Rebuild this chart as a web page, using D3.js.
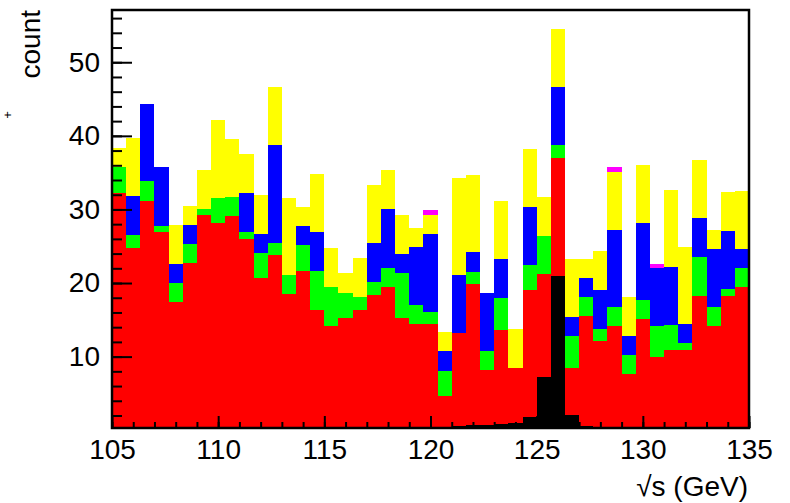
<!DOCTYPE html>
<html>
<head>
<meta charset="utf-8">
<script src="https://cdn.jsdelivr.net/npm/d3@7"></script>
<style>
    body { margin: 0; background: #fff; }
    text { font-family: "Liberation Sans", Arial, sans-serif; }
</style>
</head>
<body>
<script>
// 45 bins of 2/3 GeV between 105 and 135
var binWidth = 2 / 3;
var binLow = d3.range(45).map(function(i) { return 105 + i * binWidth; });

var black = [0.2,0.2,0.2,0.2,0.2,0.2,0.2,0.2,0.2,0.2,0.2,0.2,0.2,0.2,0.2,0.2,0.2,0.2,0.2,0.2,
    0.3,0.3,0.4,0.5,0.6,0.65,0.7,0.85,1.0,1.85,7.25,20.9,2.1,0.6,0.5,0.5,0.4,0.4,0.3,0.3,0.3,0.3,0.3,0.3,0.3];
var red = [32.1,24.6,31.0,26.7,17.2,22.5,29.0,28.0,28.9,25.8,20.5,23.6,18.3,21.5,16.2,14.0,15.1,16.2,18.2,19.3,
    15.0,14.1,14.0,4.2,12.6,19.2,7.5,12.8,7.5,17.2,14.0,16.1,6.4,14.9,11.6,13.6,7.2,14.7,9.6,10.6,10.6,18.0,13.8,18.0,19.1];
var green = [3.4,1.7,2.6,0.9,2.6,2.6,0.9,3.4,2.6,0.9,3.4,1.7,2.6,3.4,5.2,5.2,3.4,1.7,1.7,2.6,
    6.0,2.6,1.7,3.4,0,1.7,2.6,4.3,0,3.4,5.2,1.7,4.3,2.6,1.7,2.6,2.6,2.6,4.3,3.4,0.9,5.2,2.6,0.9,2.6];
var blue = [0,5.3,10.5,7.9,2.6,2.6,0,0,0,5.3,2.6,13.2,0,2.6,5.3,0,0,0,5.3,7.9,
    2.6,7.9,10.5,2.6,7.9,2.6,7.9,5.3,0,7.9,0,7.9,2.6,2.6,5.3,10.5,2.6,10.5,7.9,7.9,2.6,5.3,7.9,7.9,2.6];
var yellow = [2.6,7.9,0,0,5.3,2.6,5.3,10.5,7.9,5.3,5.3,7.9,10.5,2.6,7.9,5.3,2.6,5.3,7.9,5.3,
    5.3,2.6,2.6,2.6,13.2,10.5,0,7.9,5.3,7.9,5.3,7.9,7.9,2.6,5.3,7.9,5.3,7.9,0,10.5,10.5,7.9,2.6,5.3,7.9];
var magenta = [0,0,0,0,0,0,0,0,0,0,0,0,0,0,0,0,0,0,0,0,
    0,0,0.7,0,0,0,0,0,0,0,0,0,0,0,0,0.6,0,0,0.5,0,0,0,0,0,0];

var xTicks = [105, 110, 115, 120, 125, 130, 135];
var yTicks = [10, 20, 30, 40, 50];

var keys = ['black', 'red', 'green', 'blue', 'yellow', 'magenta'];
var colors = { black: '#000000', red: '#ff0000', green: '#00ff00', blue: '#0000ff', yellow: '#ffff00', magenta: '#ff00ff' };
var series = { black: black, red: red, green: green, blue: blue, yellow: yellow, magenta: magenta };

var rows = binLow.map(function(x, i) {
    var r = { x: x };
    keys.forEach(function(k) { r[k] = series[k][i]; });
    return r;
});

// note: "top" is a reserved window property, so use frame* names
var frameLeft = 112, frameRight = 749, frameTop = 10, frameBottom = 428;

var svg = d3.select('body').append('svg')
    .attr('width', 790)
    .attr('height', 503);

var x = d3.scaleLinear().domain([105, 135]).range([frameLeft, frameRight]);
var y = d3.scaleLinear().domain([0.3, 57.1]).range([frameBottom, frameTop]);

svg.append('clipPath').attr('id', 'frame')
    .append('rect')
    .attr('x', frameLeft).attr('y', frameTop)
    .attr('width', frameRight - frameLeft).attr('height', frameBottom - frameTop);

var stacked = d3.stack().keys(keys)(rows);

svg.append('g').attr('clip-path', 'url(#frame)')
    .selectAll('g')
    .data(stacked)
    .enter().append('g')
    .attr('fill', function(d) { return colors[d.key]; })
    .selectAll('rect')
    .data(function(d) { return d; })
    .enter().append('rect')
    .attr('shape-rendering', 'crispEdges')
    .attr('x', function(d) { return x(d.data.x); })
    .attr('width', function(d) { return x(d.data.x + binWidth) - x(d.data.x); })
    .attr('y', function(d) { return y(d[1]); })
    .attr('height', function(d) { return Math.max(0, y(d[0]) - y(d[1])); });

// y axis, ticks pointing inward
var yMinor = svg.append('g').attr('transform', 'translate(' + frameLeft + ',0)')
    .call(d3.axisLeft(y).tickValues(d3.range(2, 57, 2)).tickSize(-10).tickFormat(''));
var yMajor = svg.append('g').attr('transform', 'translate(' + frameLeft + ',0)')
    .call(d3.axisLeft(y).tickValues(yTicks).tickSize(-20).tickPadding(12));

// x axis
var xMinor = svg.append('g').attr('transform', 'translate(0,' + frameBottom + ')')
    .call(d3.axisBottom(x).tickValues(d3.range(105, 136, 1)).tickSize(-6).tickFormat(''));
var xMajor = svg.append('g').attr('transform', 'translate(0,' + frameBottom + ')')
    .call(d3.axisBottom(x).tickValues(xTicks).tickSize(-12).tickPadding(11));

[yMinor, yMajor, xMinor, xMajor].forEach(function(a) {
    a.select('.domain').remove();
    a.selectAll('line').attr('stroke', '#000').attr('stroke-width', 2);
    a.selectAll('text').attr('font-size', 28).attr('fill', '#000')
        .style('font-family', '"Liberation Sans", Arial, sans-serif');
});

svg.append('rect')
    .attr('x', frameLeft).attr('y', frameTop)
    .attr('width', frameRight - frameLeft).attr('height', frameBottom - frameTop)
    .attr('fill', 'none')
    .attr('stroke', '#000')
    .attr('stroke-width', 2.5);

svg.append('text')
    .attr('x', 748).attr('y', 496)
    .attr('text-anchor', 'end')
    .attr('font-size', 28)
    .text('\u221As (GeV)');

svg.append('text')
    .attr('transform', 'translate(40,10) rotate(-90)')
    .attr('text-anchor', 'end')
    .attr('font-size', 28)
    .text('count');

// superscript "+" from the part of the y title that falls off the canvas
svg.append('text')
    .attr('transform', 'translate(12,115) rotate(-90)')
    .attr('text-anchor', 'middle')
    .attr('font-size', 13)
    .text('+');
</script>
</body>
</html>
